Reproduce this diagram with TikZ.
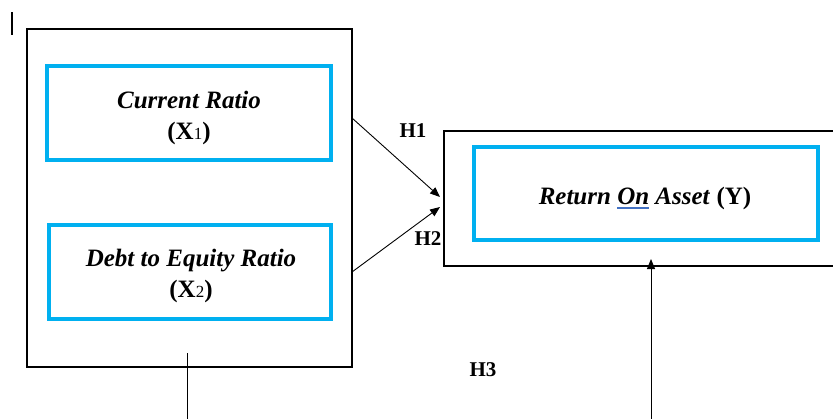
\documentclass[tikz,border=0pt]{standalone}
\usepackage{fontspec}
\setmainfont{Liberation Serif}
\usetikzlibrary{arrows.meta}
\definecolor{cyanb}{HTML}{00B0F0}
\definecolor{ulblue}{HTML}{4472C4}
\newcommand\myblueul[1]{\setbox0\hbox{#1}\rlap{\color{ulblue}\rule[-4.5pt]{\wd0}{1.3pt}}\box0\relax}
\newcommand\mysub[1]{{\fontsize{17}{20}\selectfont\mdseries #1}}
\begin{document}
\begin{tikzpicture}[x=1pt,y=-1pt,
  outerbox/.style={draw=black,line width=2pt,minimum width=#1},
  bluebox/.style={draw=cyanb,line width=4pt},
  lbl/.style={font=\fontsize{25}{31}\selectfont\bfseries,align=center,inner sep=0pt},
  hlbl/.style={font=\fontsize{21}{24}\selectfont\bfseries,inner sep=0pt},
  arr/.style={line width=0.9pt,-{Triangle[length=10pt,width=8pt]}}]
\useasboundingbox (0,0) rectangle (833,418);
% tick
\coordinate (tk1) at (12,12);
\coordinate (tk2) at (12,35);
\draw[line width=1.5pt] (tk1) -- (tk2);
% left outer box
\node[outerbox=325pt,minimum height=338pt] (lbox) at (189.5,198) {};
\node[bluebox,minimum width=284pt,minimum height=94pt] (b1) at (189,113) {};
\node[bluebox,minimum width=282pt,minimum height=94pt] (b2) at (190,272) {};
\node[lbl] (t1) at (189,118) {\textit{Current Ratio}\\(X\mysub{1})};
\node[lbl] (t2) at (191,276) {\textit{Debt to Equity Ratio}\\(X\mysub{2})};
% right box
\node[outerbox=406pt,minimum height=135pt] (rbox) at (647,198.5) {};
\node[bluebox,minimum width=344pt,minimum height=93pt] (by) at (646,193.5) {};
\node[lbl] (ty) at (645,198) {\textit{Return \myblueul{On} Asset} (Y)};
% arrows
\coordinate (h1s) at (352,118);
\coordinate (h1e) at (440,197);
\coordinate (h2s) at (352,272);
\coordinate (h2e) at (440,207);
\draw[arr] (h1s) -- (h1e);
\draw[arr] (h2s) -- (h2e);
\node[hlbl] (H1) at (413,131) {H1};
\node[hlbl] (H2) at (428,239) {H2};
\node[hlbl] (H3) at (483,370) {H3};
% vertical lines
\coordinate (v1a) at (187,353);
\coordinate (v1b) at (187,420);
\draw[line width=0.9pt] (v1a) -- (v1b);
\coordinate (v2a) at (651,420);
\coordinate (v2b) at (651,259);
\draw[arr] (v2a) -- (v2b);
\end{tikzpicture}
\end{document}
